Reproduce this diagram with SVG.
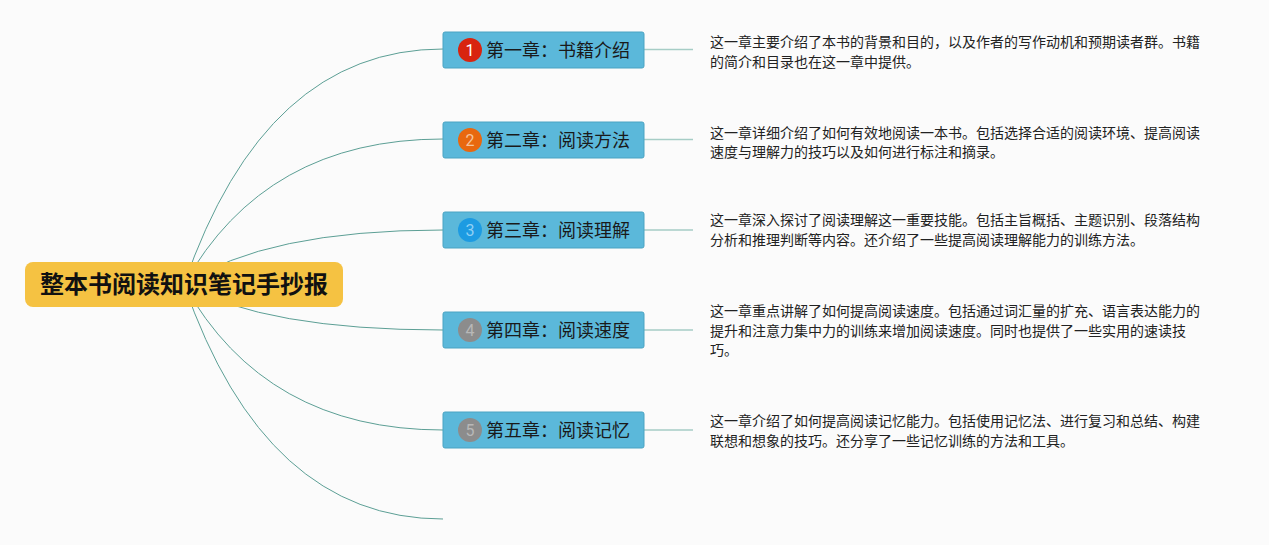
<svg xmlns="http://www.w3.org/2000/svg" width="1269" height="545" viewBox="0 0 1269 545">
<style>
.curve{fill:none;stroke:#5c9f95;stroke-width:1}
.link{fill:none;stroke:#a6cdc6;stroke-width:1.5}
.chap{fill:#5bb8da;stroke:#4aa3c2;stroke-width:1}
.ctext{font-family:"Noto Sans CJK SC","Noto Sans",sans-serif;font-size:18px;fill:#1a1a1a}
.num{font-family:Roboto,"Liberation Sans",sans-serif;font-size:16px;text-anchor:middle;fill:#ffffff}
.desc{font-family:"Noto Sans CJK SC","Noto Sans",sans-serif;font-size:14px;fill:#222222}
.root{fill:#f5c242}
.rtext{font-family:"Noto Sans CJK SC","Noto Sans",sans-serif;font-size:24px;font-weight:bold;fill:#111111}
</style>
<rect width="1269" height="545" fill="#fbfbfb"/>
<g id="connectors">
<path class="curve" d="M184,284.5 Q265,49 443,49"/>
<path class="curve" d="M184,284.5 Q265,139 443,139"/>
<path class="curve" d="M184,284.5 Q265,230 443,230"/>
<path class="curve" d="M184,284.5 Q265,330 443,330"/>
<path class="curve" d="M184,284.5 Q265,430 443,430"/>
<path class="curve" d="M184,284.5 Q265,519 443,519"/>
<line class="link" x1="644" y1="49.5" x2="693" y2="49.5"/>
<line class="link" x1="644" y1="139.5" x2="693" y2="139.5"/>
<line class="link" x1="644" y1="230" x2="693" y2="230"/>
<line class="link" x1="644" y1="330" x2="693" y2="330"/>
<line class="link" x1="644" y1="430" x2="693" y2="430"/>
</g>
<g id="root">
<rect class="root" x="25" y="262" width="318" height="45" rx="8"/>
<text class="rtext" x="184" y="293" text-anchor="middle">整本书阅读知识笔记手抄报</text>
</g>
<g id="ch1">
<rect class="chap" x="443" y="32" width="201" height="36" rx="2"/>
<circle cx="470" cy="50" r="12" fill="#d8240f"/>
<text class="num" x="470" y="55.8">1</text>
<text class="ctext" x="486" y="56.8">第一章：书籍介绍</text>
</g>
<g id="ch2">
<rect class="chap" x="443" y="122" width="201" height="36" rx="2"/>
<circle cx="470" cy="140" r="12" fill="#e8680f"/>
<text class="num" x="470" y="145.8" style="fill:#f6c39a">2</text>
<text class="ctext" x="486" y="146.8">第二章：阅读方法</text>
</g>
<g id="ch3">
<rect class="chap" x="443" y="212" width="201" height="36" rx="2"/>
<circle cx="470" cy="230" r="12" fill="#1d9be2"/>
<text class="num" x="470" y="235.8" style="fill:#8fd0f5">3</text>
<text class="ctext" x="486" y="236.8">第三章：阅读理解</text>
</g>
<g id="ch4">
<rect class="chap" x="443" y="312" width="201" height="36" rx="2"/>
<circle cx="470" cy="330" r="12" fill="#8c8c8c"/>
<text class="num" x="470" y="335.8" style="fill:#b8b8b8">4</text>
<text class="ctext" x="486" y="336.8">第四章：阅读速度</text>
</g>
<g id="ch5">
<rect class="chap" x="443" y="412" width="201" height="36" rx="2"/>
<circle cx="470" cy="430" r="12" fill="#8c8c8c"/>
<text class="num" x="470" y="435.8" style="fill:#b8b8b8">5</text>
<text class="ctext" x="486" y="436.8">第五章：阅读记忆</text>
</g>
<g id="desc1">
<text class="desc" x="710" y="47">这一章主要介绍了本书的背景和目的，以及作者的写作动机和预期读者群。书籍</text>
<text class="desc" x="710" y="66.5">的简介和目录也在这一章中提供。</text>
</g>
<g id="desc2">
<text class="desc" x="710" y="138">这一章详细介绍了如何有效地阅读一本书。包括选择合适的阅读环境、提高阅读</text>
<text class="desc" x="710" y="157.3">速度与理解力的技巧以及如何进行标注和摘录。</text>
</g>
<g id="desc3">
<text class="desc" x="710" y="225.4">这一章深入探讨了阅读理解这一重要技能。包括主旨概括、主题识别、段落结构</text>
<text class="desc" x="710" y="244.6">分析和推理判断等内容。还介绍了一些提高阅读理解能力的训练方法。</text>
</g>
<g id="desc4">
<text class="desc" x="710" y="316.4">这一章重点讲解了如何提高阅读速度。包括通过词汇量的扩充、语言表达能力的</text>
<text class="desc" x="710" y="335.9">提升和注意力集中力的训练来增加阅读速度。同时也提供了一些实用的速读技</text>
<text class="desc" x="710" y="355.4">巧。</text>
</g>
<g id="desc5">
<text class="desc" x="710" y="426">这一章介绍了如何提高阅读记忆能力。包括使用记忆法、进行复习和总结、构建</text>
<text class="desc" x="710" y="445.5">联想和想象的技巧。还分享了一些记忆训练的方法和工具。</text>
</g>
</svg>
